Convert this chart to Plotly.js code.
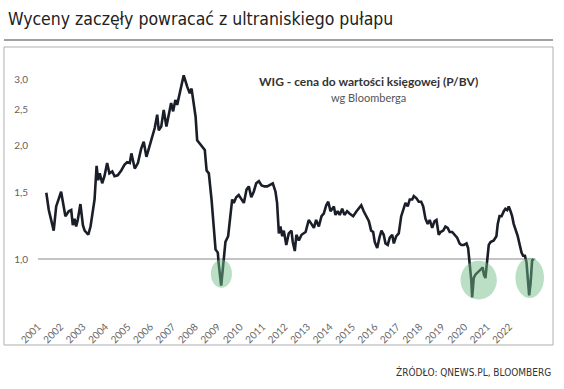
<!DOCTYPE html>
<html>
<head>
<meta charset="utf-8">
<script src="https://cdn.plot.ly/plotly-3.0.1.min.js"></script>
<style>html,body{margin:0;padding:0;background:#fff;}#chart{width:564px;height:389px;}</style>
</head>
<body>
<div id="chart"></div>
<script>
// WIG price-to-book (P/BV)
const years = [
2001.37,2001.48,2001.70,2001.81,2002.03,2002.22,2002.37,2002.48,2002.55,2002.63,
2002.70,2002.77,2002.89,2003.00,2003.08,2003.24,2003.34,2003.44,2003.52,2003.61,
2003.68,2003.75,2003.86,2003.96,2004.08,2004.18,2004.31,2004.41,2004.55,2004.71,
2004.85,2004.97,2005.09,2005.16,2005.31,2005.45,2005.60,2005.71,2005.83,2005.94,
2006.09,2006.20,2006.31,2006.38,2006.49,2006.60,2006.72,2006.83,2006.93,2007.02,
2007.12,2007.20,2007.32,2007.49,2007.65,2007.76,2007.84,2007.90,2008.02,2008.09,
2008.24,2008.43,2008.51,2008.61,2008.73,2008.83,2008.91,2009.01,2009.05,2009.16,
2009.25,2009.35,2009.47,2009.54,2009.65,2009.72,2009.83,2009.94,2010.06,2010.17,
2010.29,2010.39,2010.50,2010.61,2010.72,2010.84,2010.96,2011.09,2011.21,2011.36,
2011.46,2011.58,2011.65,2011.73,2011.80,2011.88,2011.95,2012.06,2012.17,2012.29,
2012.35,2012.44,2012.51,2012.62,2012.74,2012.92,2013.06,2013.18,2013.29,2013.39,
2013.51,2013.63,2013.73,2013.84,2013.93,2014.03,2014.18,2014.25,2014.35,2014.44,
2014.55,2014.65,2014.77,2014.89,2015.04,2015.19,2015.29,2015.40,2015.51,2015.63,
2015.74,2015.84,2015.93,2016.00,2016.11,2016.21,2016.30,2016.40,2016.48,2016.58,
2016.67,2016.78,2016.85,2016.96,2017.07,2017.18,2017.27,2017.37,2017.47,2017.56,
2017.67,2017.74,2017.86,2017.96,2018.07,2018.16,2018.26,2018.36,2018.45,2018.56,
2018.66,2018.75,2018.85,2018.93,2019.05,2019.15,2019.25,2019.34,2019.45,2019.55,
2019.67,2019.78,2019.86,2019.97,2020.09,2020.16,2020.22,2020.30,2020.34,2020.41,
2020.49,2020.56,2020.63,2020.74,2020.81,2020.86,2020.93,2021.01,2021.08,2021.16,
2021.30,2021.42,2021.48,2021.56,2021.65,2021.75,2021.82,2021.90,2021.97,2022.05,
2022.12,2022.19,2022.31,2022.37,2022.46,2022.54,2022.61,2022.69,2022.76,2022.82,
2022.88,2022.94,2023.01,2023.08];
const pbv = [
1.50,1.35,1.19,1.38,1.51,1.30,1.34,1.35,1.23,1.28,
1.22,1.27,1.40,1.23,1.19,1.16,1.22,1.32,1.44,1.77,
1.62,1.69,1.59,1.66,1.80,1.69,1.71,1.66,1.67,1.72,
1.78,1.81,1.80,1.91,1.74,1.80,1.97,2.05,1.87,1.97,
2.12,2.23,2.42,2.20,2.25,2.49,2.25,2.42,2.60,2.47,
2.65,2.57,2.76,3.08,2.87,2.76,2.84,2.70,2.39,2.07,
2.01,1.95,1.72,1.69,1.44,1.17,1.06,1.04,0.97,0.85,
0.97,1.11,1.15,1.27,1.44,1.41,1.46,1.48,1.44,1.41,
1.53,1.56,1.46,1.51,1.59,1.61,1.57,1.56,1.56,1.58,
1.59,1.51,1.41,1.17,1.22,1.15,1.19,1.09,1.17,1.19,
1.11,1.05,1.16,1.12,1.16,1.18,1.27,1.24,1.21,1.27,
1.22,1.30,1.32,1.39,1.42,1.34,1.38,1.31,1.34,1.31,
1.36,1.31,1.34,1.32,1.30,1.34,1.36,1.39,1.34,1.30,
1.26,1.19,1.18,1.11,1.07,1.14,1.19,1.16,1.10,1.09,
1.14,1.16,1.10,1.15,1.17,1.30,1.36,1.41,1.38,1.44,
1.44,1.47,1.45,1.42,1.42,1.38,1.28,1.24,1.27,1.21,
1.26,1.27,1.16,1.18,1.19,1.22,1.21,1.18,1.18,1.16,
1.14,1.10,1.09,1.09,1.10,1.07,0.99,0.88,0.79,0.89,
0.91,0.92,0.93,0.94,0.95,0.91,0.89,1.00,1.09,1.11,
1.12,1.15,1.24,1.30,1.30,1.34,1.36,1.35,1.38,1.34,
1.30,1.24,1.18,1.15,1.09,1.04,1.02,1.02,0.98,0.90,
0.80,0.86,0.99,1.00];

const tickYears = [2001,2002,2003,2004,2005,2006,2007,2008,2009,2010,2011,2012,2013,2014,2015,2016,2017,2018,2019,2020,2021,2022];
const tickLabels = ['2001','2002','2003','2004','2005','2006','2007','2008','2009','2010','2011','2012','2013','2014','2015','2016','2017','2018','2019','2020','2021','2022'];
const yTickVals = [1.0,1.5,2.0,2.5,3.0];
const yTickText = ['1,0','1,5','2,0','2,5','3,0'];

// highlighted troughs (x span in years, value span)
const hiX0 = [2008.70, 2019.82, 2022.27];
const hiX1 = [2009.64, 2021.44, 2023.54];
const hiLow = [0.838, 0.780, 0.788];
const hiHigh = [0.996, 0.990, 1.008];

const refLevel = 1.0;
const axisEnd = 2023.16;

const shapes = [];
// outer frame and top rule
shapes.push({type:'rect', xref:'paper', yref:'paper', x0:-0.0671, x1:1.0158, y0:-0.1007, y1:1.0112,
  line:{color:'#b0b0b0', width:1}, fillcolor:'rgba(0,0,0,0)', layer:'below'});
shapes.push({type:'line', xref:'paper', yref:'paper', x0:-0.0671, x1:1.0158, y0:1.0373, y1:1.0373,
  line:{color:'#a0a0a0', width:2}, layer:'below'});
// reference line at 1.0
shapes.push({type:'line', xref:'x', yref:'y', x0:2001, x1:axisEnd, y0:refLevel, y1:refLevel,
  line:{color:'#8a8a8a', width:1.2}, layer:'below'});
for (let i = 0; i < tickYears.length + 1; i++) {
  const yr = 2001 + i;
  shapes.push({type:'line', xref:'x', yref:'y', ysizemode:'pixel', yanchor:refLevel,
    x0:yr, x1:yr, y0:-1, y1:-4, line:{color:'#bdbdbd', width:1}, layer:'below'});
}
for (let i = 0; i < hiX0.length; i++) {
  shapes.push({type:'circle', xref:'x', yref:'y', x0:hiX0[i], x1:hiX1[i],
    y0:hiLow[i], y1:hiHigh[i],
    fillcolor:'rgba(110,188,134,0.48)', line:{width:0}, layer:'above'});
}

const data = [{
  x: years, y: pbv, type:'scatter', mode:'lines',
  line:{color:'#1a1e28', width:2.6}, hoverinfo:'skip'
}];

const layout = {
  width:564, height:389,
  margin:{l:38, r:19, t:50, b:71},
  paper_bgcolor:'#fff', plot_bgcolor:'rgba(0,0,0,0)',
  showlegend:false,
  title:{text:'Wyceny zaczęły powracać z ultraniskiego pułapu', xref:'container', yref:'container',
    x:0.014, xanchor:'left', y:0.951, yanchor:'middle',
    font:{family:'"DejaVu Sans Condensed",sans-serif', size:17.5, color:'#222'}},
  xaxis:{range:[2001, 2023.585], tickvals:tickYears, ticktext:tickLabels, tickangle:-45,
    showgrid:false, zeroline:false, showline:false, ticks:'',
    tickfont:{family:'Lato, sans-serif', size:10, color:'#666'}},
  yaxis:{type:'log', range:[-0.1569, 0.5559], tickvals:yTickVals, ticktext:yTickText,
    showgrid:false, zeroline:false, showline:false, ticks:'', ticklabelstandoff:9,
    tickfont:{family:'Lato, sans-serif', size:10, color:'#5f5f5f'}},
  shapes: shapes,
  annotations:[
    {text:'<b>WIG - cena do wartości księgowej (P/BV)</b>', xref:'paper', yref:'paper', x:0.651, y:0.8843,
      xanchor:'center', yanchor:'middle', showarrow:false,
      font:{family:'Lato, sans-serif', size:12, color:'#333'}},
    {text:'wg Bloomberga', xref:'paper', yref:'paper', x:0.651, y:0.8246,
      xanchor:'center', yanchor:'middle', showarrow:false,
      font:{family:'Lato, sans-serif', size:11, color:'#555'}},
    {text:'ŹRÓDŁO: QNEWS.PL, BLOOMBERG', xref:'paper', yref:'paper', x:1.0158, y:-0.2015,
      xanchor:'right', yanchor:'middle', showarrow:false,
      font:{family:'"DejaVu Sans Condensed",sans-serif', size:10, color:'#333'}}
  ]
};

Plotly.newPlot('chart', data, layout, {displayModeBar:false, staticPlot:true});
</script>
</body>
</html>
